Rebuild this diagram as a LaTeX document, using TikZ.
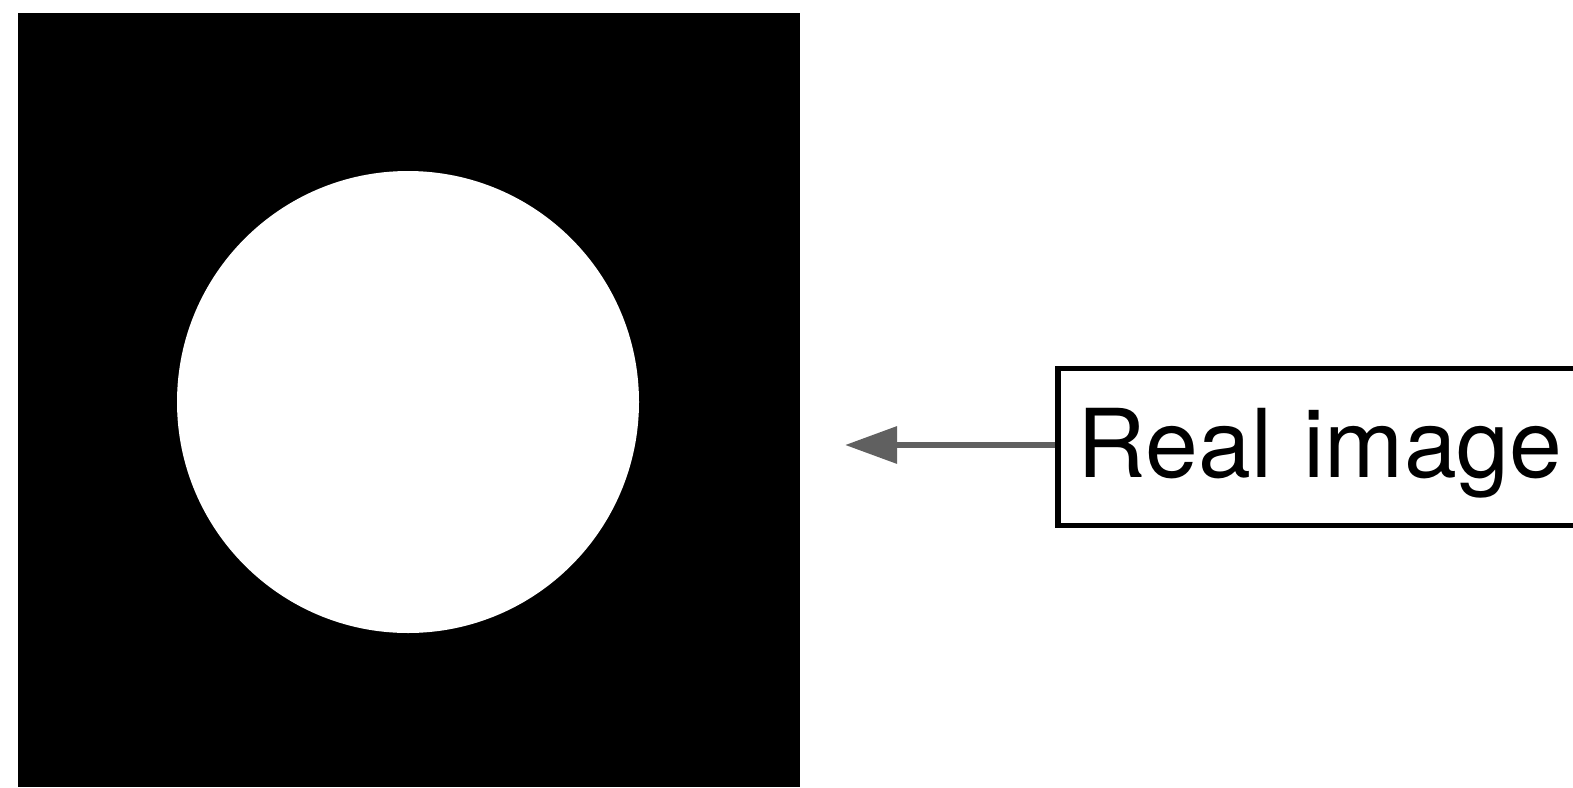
\documentclass[tikz,border=0pt]{standalone}
\usepackage{fontspec}
\setmainfont{TeX Gyre Heros}
\usetikzlibrary{arrows.meta}
\tikzset{
  imgsq/.style={fill=black, draw=none, inner sep=0pt, minimum width=391pt, minimum height=387pt, anchor=north west},
  disc/.style={circle, fill=white, draw=none, inner sep=0pt, minimum size=231pt},
  labelbox/.style={draw=black, line width=2.8pt, anchor=north west, minimum width=300pt, minimum height=78.5pt, inner sep=0pt, text width=290pt, align=left, font=\fontsize{47.5}{54}\selectfont},
  pointer/.style={draw={rgb,255:red,96;green,96;blue,96}, line width=3.2pt, -{Triangle[length=26pt,width=18pt]}}
}
\begin{document}
\begin{tikzpicture}[x=0.5pt,y=-0.5pt]
\useasboundingbox (0,0) rectangle (1573,787);
\node[imgsq] (sq) at (18,13) {};
\node[disc] (c) at (408,402) {};
\node[labelbox] (lbl) at (1055,365.5) {\hspace*{5pt}\raisebox{-3pt}[\height][\depth]{Real image}};
\coordinate (tip) at (845,445);
\draw[pointer] (lbl.west |- tip) -- (tip);
\end{tikzpicture}
\end{document}
